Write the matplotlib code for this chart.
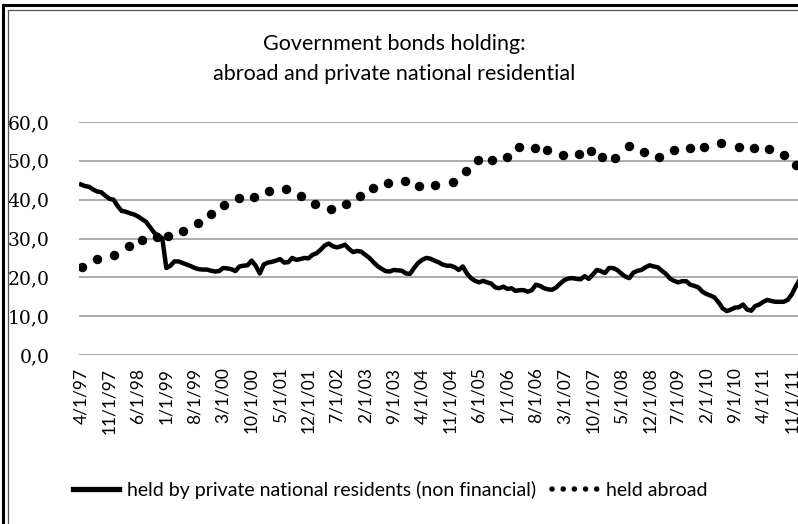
import numpy as np
import pandas as pd
import matplotlib
matplotlib.use("Agg")
import matplotlib.pyplot as plt
from matplotlib.lines import Line2D

# monthly series, first month April 1997
start = "1997-04-01"
private_residents = [
    43.9, 43.5, 43.3, 42.6, 42.1, 41.9, 41.0, 40.2, 40.0, 38.4,
    37.1, 36.9, 36.5, 36.2, 35.7, 35.0, 34.3, 32.9, 31.5, 30.7,
    30.1, 22.4, 23.0, 24.1, 24.1, 23.7, 23.3, 22.9, 22.4, 22.1,
    22.0, 22.0, 21.7, 21.5, 21.6, 22.4, 22.3, 22.1, 21.6, 22.8,
    23.0, 23.1, 24.3, 23.0, 21.0, 23.3, 23.8, 24.0, 24.3, 24.7,
    23.8, 23.9, 25.0, 24.5, 24.7, 25.0, 24.9, 25.8, 26.2, 27.1,
    28.2, 28.7, 28.0, 27.7, 28.0, 28.4, 27.3, 26.5, 26.8, 26.6,
    25.8, 25.0, 23.9, 22.9, 22.2, 21.6, 21.5, 21.9, 21.8, 21.7,
    21.0, 20.9, 22.4, 23.7, 24.5, 25.0, 24.8, 24.3, 23.9, 23.3,
    23.0, 23.0, 22.6, 21.9, 22.8, 21.0, 19.8, 19.1, 18.7, 19.1,
    18.7, 18.4, 17.4, 17.2, 17.6, 17.0, 17.2, 16.5, 16.7, 16.7,
    16.3, 16.7, 18.1, 17.8, 17.2, 16.9, 16.8, 17.4, 18.4, 19.3,
    19.7, 19.8, 19.6, 19.5, 20.3, 19.6, 20.7, 21.9, 21.6, 21.1,
    22.4, 22.4, 21.9, 21.0, 20.2, 19.8, 21.2, 21.7, 21.9, 22.6,
    23.1, 22.8, 22.6, 21.7, 20.9, 19.7, 19.1, 18.7, 19.0, 19.0,
    18.1, 17.8, 17.4, 16.3, 15.7, 15.3, 14.8, 13.5, 12.0, 11.3,
    11.7, 12.2, 12.3, 13.0, 11.7, 11.4, 12.6, 13.0, 13.7, 14.2,
    13.9, 13.7, 13.7, 13.7, 14.2, 15.6, 17.7, 19.5,
]

# dotted series: months after April 1997 and values
abroad_month = [
    0.2, 3.9, 8.0, 11.7, 14.9, 18.8, 21.5, 25.1, 28.8, 32.0,
    35.3, 39.0, 42.6, 46.2, 50.5, 54.2, 57.7, 61.6, 65.3, 68.6,
    71.9, 75.7, 79.8, 83.3, 87.2, 91.5, 94.8, 97.8, 101.2, 104.9,
    107.9, 111.8, 114.8, 118.6, 122.5, 125.6, 128.3, 131.5, 134.8, 138.5,
    142.4, 146.1, 150.0, 153.5, 157.6, 161.9, 165.6, 169.5, 173.0, 176.0,
]
abroad = [
    22.7, 24.6, 25.7, 28.0, 29.5, 30.3, 30.6, 32.0, 34.1, 36.3,
    38.7, 40.5, 40.8, 42.3, 42.7, 41.0, 38.9, 37.7, 38.9, 41.0,
    43.1, 44.2, 44.9, 43.6, 43.8, 44.5, 47.3, 50.2, 50.2, 50.9,
    53.5, 53.3, 52.8, 51.5, 51.8, 52.6, 51.1, 50.8, 53.9, 52.2,
    51.0, 52.8, 53.2, 53.5, 54.5, 53.6, 53.4, 53.0, 51.6, 48.8,
]

dates = pd.date_range(start, periods=len(private_residents), freq="MS")
months = np.arange(len(dates))
tick_pos = months[::7]
tick_labels = [f"{d.month}/1/{d:%y}" for d in dates[::7]]
y_ticks = np.arange(0, 61, 10)

fig = plt.figure(figsize=(7.98, 5.24), dpi=100)
ax = fig.add_axes([79 / 798, 1 - 355 / 524, 727 / 798, 233 / 524])

ax.plot(months, private_residents, color="black", linewidth=3.2,
        solid_joinstyle="round", zorder=3)
ax.plot(abroad_month, abroad, linestyle="none", marker="o", markersize=5.8,
        color="black", zorder=3)

ax.set_xlim(-0.5, 178.5)
ax.set_ylim(0, 60)
ax.set_yticks(y_ticks)
ax.set_yticklabels([f"{v:.1f}".replace(".", ",") for v in y_ticks],
                   family="DejaVu Serif", fontsize=13.5)
ax.set_xticks(tick_pos)
ax.set_xticklabels(tick_labels, rotation=90, family="Lato", fontsize=12.5)
ax.tick_params(axis="both", length=0)
ax.tick_params(axis="y", pad=21)
ax.tick_params(axis="x", pad=9)
ax.grid(axis="y", color="#a6a6a6", linewidth=1.3)
for s in ax.spines.values():
    s.set_visible(False)
ax.set_axisbelow(True)

fig.text(0.494, 1 - 44 / 524, "Government bonds holding:", ha="center",
         va="center", family="Lato", fontsize=15.5)
fig.text(0.494, 1 - 74 / 524, "abroad and private national residential",
         ha="center", va="center", family="Lato", fontsize=15.5)

handles = [
    Line2D([], [], color="black", linewidth=3.8),
    Line2D([], [], color="black", linestyle=(0, (0.01, 2.0)), linewidth=4.0,
           dash_capstyle="round"),
]
fig.legend(handles, ["held by private national residents (non financial)",
                     "held abroad"],
           loc="center", bbox_to_anchor=(0.489, 1 - 490 / 524), ncol=2,
           frameon=False, prop={"family": "Lato", "size": 14.0},
           handlelength=2.4, handletextpad=0.4, columnspacing=0.8)

# double frame around the chart area
fig.add_artist(Line2D([3 / 798, 3 / 798], [0, 1 - 5 / 524],
                      transform=fig.transFigure, color="black", linewidth=2.2))
fig.add_artist(Line2D([3 / 798, 1], [1 - 5 / 524, 1 - 5 / 524],
                      transform=fig.transFigure, color="black", linewidth=2.2))
fig.add_artist(Line2D([8 / 798, 8 / 798], [0, 1 - 10 / 524],
                      transform=fig.transFigure, color="#555555", linewidth=0.9))
fig.add_artist(Line2D([8 / 798, 1], [1 - 10 / 524, 1 - 10 / 524],
                      transform=fig.transFigure, color="#555555", linewidth=0.9))

fig.savefig("out.png", dpi=100)
